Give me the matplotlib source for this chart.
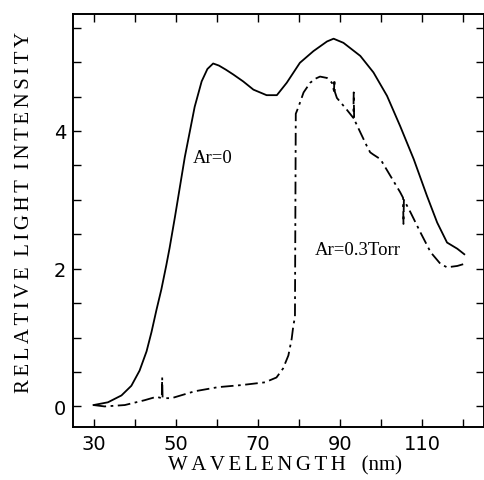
import numpy as np
import matplotlib
matplotlib.use('Agg')
import matplotlib.pyplot as plt
from matplotlib.ticker import MultipleLocator, FixedLocator

# Ar = 0 (solid curve)
wl_ar0 = [30, 33.5, 36.8, 39.2, 41.2, 42.9, 44.1, 45.3, 46.5, 47.7, 48.5,
          49.8, 52.2, 54.6, 56.3, 57.7, 59.1, 60.5, 62.2, 64.0, 66.4, 68.9,
          72.1, 74.6, 77.0, 80.2, 83.5, 86.8, 88.4, 90.8, 94.9, 98.1, 101.4,
          104.6, 107.9, 111.1, 113.6, 116.0, 118.5, 120.2]
int_ar0 = [0.02, 0.06, 0.16, 0.30, 0.52, 0.80, 1.08, 1.40, 1.70, 2.05, 2.30,
           2.75, 3.62, 4.35, 4.72, 4.90, 4.98, 4.95, 4.89, 4.82, 4.72, 4.60,
           4.52, 4.52, 4.70, 4.99, 5.16, 5.30, 5.34, 5.28, 5.09, 4.85, 4.51,
           4.07, 3.59, 3.06, 2.67, 2.38, 2.29, 2.21]

# Ar = 0.3 Torr (dash-dot curve)
wl_ar03 = [30, 32.7, 37.6, 42.4, 45.3, 46.6, 46.7, 46.8, 49.0, 54.6, 60.3,
           66.0, 71.7, 74.5, 76.1, 77.4, 78.2, 78.6, 79.0, 79.2, 79.8, 81.1,
           82.7, 84.0, 85.1, 86.8, 88.0, 88.5, 88.6, 88.7, 89.2, 91.6, 93.2,
           93.3, 93.4, 94.9, 96.5, 97.3, 98.0, 99.8, 102.2, 104.6, 105.3,
           105.4, 105.5, 107.1, 109.5, 112.0, 114.4, 116.0, 118.5, 120.2]
int_ar03 = [0.02, 0.0, 0.02, 0.09, 0.14, 0.12, 0.42, 0.12, 0.12, 0.22, 0.28,
            0.31, 0.35, 0.42, 0.55, 0.74, 0.98, 1.17, 1.30, 4.25, 4.34, 4.56,
            4.70, 4.76, 4.79, 4.77, 4.70, 4.58, 4.75, 4.57, 4.48, 4.31, 4.19,
            4.56, 4.17, 3.98, 3.78, 3.69, 3.66, 3.59, 3.35, 3.11, 3.03, 2.65,
            3.0, 2.82, 2.53, 2.24, 2.07, 2.02, 2.04, 2.07]

x_ticks = [30, 50, 70, 90, 110]
y_ticks = [0, 2, 4]


def spaced(s):
    # mimic the wide letter spacing of the original labels
    return '\u2006'.join(s)


fig = plt.figure(figsize=(4.85, 4.81), dpi=100)
ax = fig.add_axes([0.1505, 0.110, 0.8475, 0.859])

ax.plot(wl_ar0, int_ar0, color='black', lw=1.3)
ax.plot(wl_ar03, int_ar03, color='black', lw=1.3,
        linestyle=(0, (7, 2.5, 1.5, 2.5)))

ax.text(54.1, 3.61, 'Ar=0', fontsize=13.5, family='Liberation Serif', va='center')
ax.text(83.9, 2.28, 'Ar=0.3Torr', fontsize=13.5, family='Liberation Serif', va='center')

ax.set_xlim(25, 125)
ax.set_ylim(-0.3, 5.7)
ax.xaxis.set_major_locator(FixedLocator(x_ticks))
ax.xaxis.set_minor_locator(MultipleLocator(10))
ax.yaxis.set_major_locator(FixedLocator(y_ticks))
ax.yaxis.set_minor_locator(MultipleLocator(0.5))
ax.tick_params(which='both', direction='in', top=True, right=True,
               length=6, width=1.0, color='black')
ax.tick_params(axis='x', labelsize=14, pad=5)
ax.tick_params(axis='y', labelsize=14, pad=5)
for s in ax.spines.values():
    s.set_linewidth(1.4)

ax.set_xlabel(spaced('WAVELENGTH') + '   (nm)', fontsize=15,
              family='Liberation Serif')
ax.set_ylabel(spaced('RELATIVE') + '  ' + spaced('LIGHT') + '  ' +
              spaced('INTENSITY'), fontsize=15, family='Liberation Serif')
ax.xaxis.set_label_coords(0.516, -0.068)
ax.yaxis.set_label_coords(-0.095, 0.523)

plt.savefig('out.png', dpi=100)
